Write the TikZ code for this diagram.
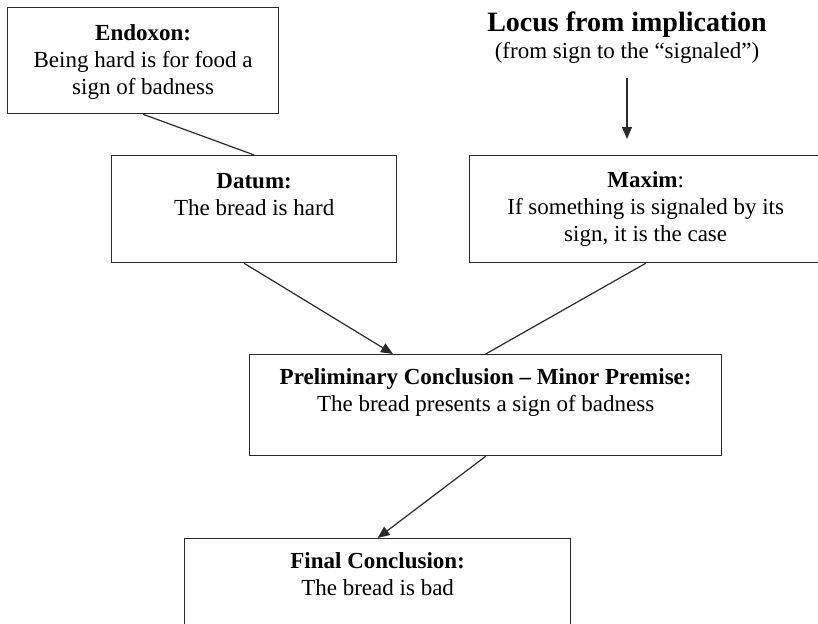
\documentclass[tikz,border=0pt]{standalone}
\usepackage{fontspec}
\setmainfont{Liberation Serif}
\usetikzlibrary{arrows.meta,calc}
\definecolor{linec}{HTML}{2A2A2A}
\begin{document}
\begin{tikzpicture}[x=1pt,y=-1pt,
  box/.style={draw=linec, line width=1.3pt, inner sep=0pt, anchor=north west},
  txt/.style={align=center, anchor=north, inner sep=0pt, font=\fontsize{23}{27}\selectfont},
  conn/.style={draw=linec, line width=1.2pt},
  arr/.style={conn, -{Triangle[length=12pt,width=10pt]}}]
\path[use as bounding box, clip] (0,0) rectangle (818,623);
\fill[white] (0,0) rectangle (818,623);

% boxes
\node[box, minimum width=271pt, minimum height=106pt] (endoxon) at (7,7) {};
\node[box, minimum width=285pt, minimum height=107pt] (datum) at (111,155) {};
\node[box, minimum width=352pt, minimum height=107pt] (maxim) at (469,155) {};
\node[box, minimum width=472pt, minimum height=101pt] (prelim) at (249,354) {};
\node[box, minimum width=386pt, minimum height=120pt] (final) at (184,538) {};

% texts
\node[txt] (endoxonT) at ($(endoxon.north)+(0,17)$) {\textbf{Endoxon:}\\Being hard is for food a\\sign of badness};
\node[txt] (datumT) at ($(datum.north)+(0,18)$) {\textbf{Datum:}\\The bread is hard};
\node[txt] (maximT) at ($(maxim.north)+(0,16)$) {\textbf{Maxim}:\\If something is signaled by its\\sign, it is the case};
\node[txt] (prelimT) at ($(prelim.north)+(0,14)$) {\textbf{Preliminary Conclusion – Minor Premise:}\\The bread presents a sign of badness};
\node[txt] (finalT) at ($(final.north)+(0,14)$) {\textbf{Final Conclusion:}\\The bread is bad};

\node[anchor=north, inner sep=0pt, font=\fontsize{28}{32}\selectfont\bfseries] (locus) at (627,12) {Locus from implication};
\node[anchor=north, inner sep=0pt, font=\fontsize{23}{27}\selectfont] (locussub) at (627,42) {(from sign to the “signaled”)};
\coordinate (locend) at (627,139);

% connectors
\draw[conn] (endoxon.south) -- (datum.north);
\draw[arr] ($(datum.south)+(-10,0)$) -- ($(prelim.north west)+(144,0)$);
\draw[conn] (maxim.south) -- (prelim.north);
\draw[arr] (prelim.south) -- (final.north);
\draw[arr] ($(locussub.south)+(0,14)$) -- (locend);
\end{tikzpicture}
\end{document}
